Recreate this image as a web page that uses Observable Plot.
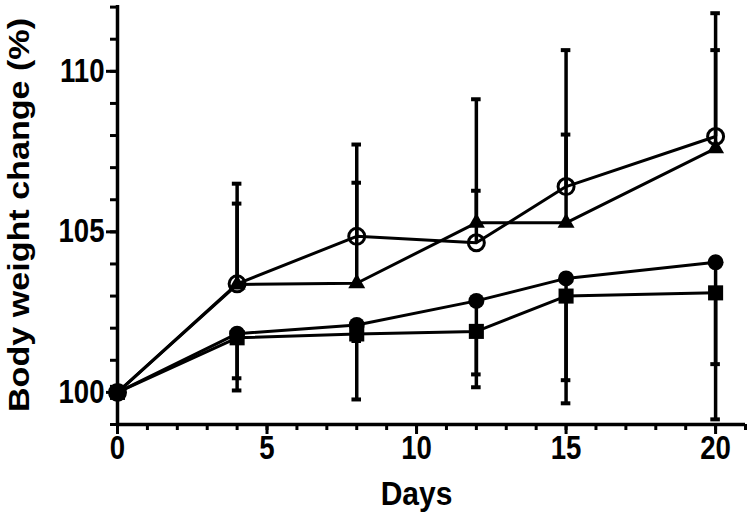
<!DOCTYPE html>
<html>
<head>
<meta charset="utf-8">
<script src="https://cdn.jsdelivr.net/npm/d3@7"></script>
<script src="https://cdn.jsdelivr.net/npm/@observablehq/plot@0.6"></script>
<style>
  html, body { margin: 0; padding: 0; background: #fff; }
  svg { display: block; }
</style>
</head>
<body>
<div id="chart"></div>
<script>
const days = [0, 4, 8, 12, 15, 20];
const openCircle = [100, 103.38, 104.86, 104.66, 106.41, 107.97];
const openCircleErrTop = [100, 106.5, 107.72, 109.13, 110.66, 111.81];
const triangle = [100, 103.36, 103.4, 105.28, 105.28, 107.6];
const triangleErrTop = [100, 105.88, 106.53, 106.28, 108.03, 110.66];
const filledCircle = [100, 101.83, 102.1, 102.85, 103.55, 104.05];
const filledCircleErrLow = [100, 100.44, 101.6, 100.56, 100.38, 100.88];
const square = [100, 101.7, 101.82, 101.9, 103.0, 103.1];
const squareErrLow = [100, 100.06, 99.78, 100.16, 99.66, 99.16];

const yMajorTicks = [100, 105, 110];
const xMajorTicks = [0, 5, 10, 15, 20];
const xTitle = "Days";
const yTitle = "Body weight change (%)";

const series = [
  {name: "open", values: openCircle, err: openCircleErrTop, symbol: "circle", fill: "none", r: 8},
  {name: "triangle", values: triangle, err: triangleErrTop, symbol: "triangle", fill: "black", r: 6.3},
  {name: "filled", values: filledCircle, err: filledCircleErrLow, symbol: "circle", fill: "black", r: 8},
  {name: "square", values: square, err: squareErrLow, symbol: "square", fill: "black", r: 8.5}
];

const rows = series.flatMap(s => days.map((d, i) => ({series: s.name, day: d, value: s.values[i], err: s.err[i]})));
const errRows = rows.filter(d => d.err !== d.value);

const capHalf = 0.16;
const font = "'Liberation Sans', Arial, Helvetica, sans-serif";

const marks = [
  // minor ticks
  Plot.axisY(d3.range(99, 113), {tickSize: 7, strokeWidth: 3, tickFormat: () => "", label: null}),
  Plot.axisX(d3.range(0, 22), {tickSize: 6, strokeWidth: 3, tickFormat: () => "", label: null}),
  // major ticks
  Plot.axisY(yMajorTicks, {tickSize: 11, tickPadding: 2, strokeWidth: 3, fontSize: 30, fontWeight: "bold", label: null}),
  Plot.axisX(xMajorTicks, {tickSize: 10, tickPadding: 1, strokeWidth: 3, fontSize: 30, fontWeight: "bold", label: null}),
  // axis lines
  Plot.ruleX([0], {strokeWidth: 3.5}),
  Plot.ruleY([99], {strokeWidth: 3.5}),
  // lines
  Plot.line(rows, {x: "day", y: "value", z: "series", stroke: "black", strokeWidth: 3}),
  // error bars
  Plot.ruleX(errRows, {x: "day", y1: "value", y2: "err", stroke: "black", strokeWidth: 3.5}),
  Plot.ruleY(errRows, {y: "err", x1: d => d.day - capHalf, x2: d => d.day + capHalf, stroke: "black", strokeWidth: 4}),
];

for (const s of series) {
  marks.push(Plot.dot(rows.filter(d => d.series === s.name), {
    x: "day", y: "value", symbol: () => s.symbol, r: s.r,
    fill: s.fill, stroke: "black", strokeWidth: s.fill === "none" ? 3 : 0
  }));
}

marks.push(Plot.text([yTitle], {frameAnchor: "left", textAnchor: "middle", rotate: -90, dx: -98, fontSize: 30, fontWeight: "bold", className: "ytitle"}));
marks.push(Plot.text([xTitle], {frameAnchor: "bottom", textAnchor: "middle", dx: -15, dy: 80, fontSize: 30, fontWeight: "bold", className: "xtitle"}));

const chart = Plot.plot({
  width: 750,
  height: 528,
  marginLeft: 117,
  marginRight: 5,
  marginTop: 5,
  marginBottom: 104,
  x: {domain: [0, 21]},
  y: {domain: [99, 112.05]},
  symbol: {type: "identity"},
  style: {fontFamily: font, fontWeight: "bold", color: "black", background: "white", overflow: "visible"},
  marks
});

// slightly condensed, taller tick labels
d3.select(chart).selectAll('g[aria-label="y-axis tick label"] text, g[aria-label="x-axis tick label"] text')
  .each(function() {
    const t = this.getAttribute("transform") || "";
    this.setAttribute("transform", t + " scale(0.92,1.08)");
  });
// stretched y title
d3.select(chart).selectAll(".ytitle text")
  .attr("textLength", 394)
  .attr("lengthAdjust", "spacingAndGlyphs");
d3.select(chart).selectAll(".xtitle text")
  .each(function() {
    const t = this.getAttribute("transform") || "";
    this.setAttribute("transform", t + " scale(1,1.1)");
  });

document.getElementById("chart").appendChild(chart);
</script>
</body>
</html>
